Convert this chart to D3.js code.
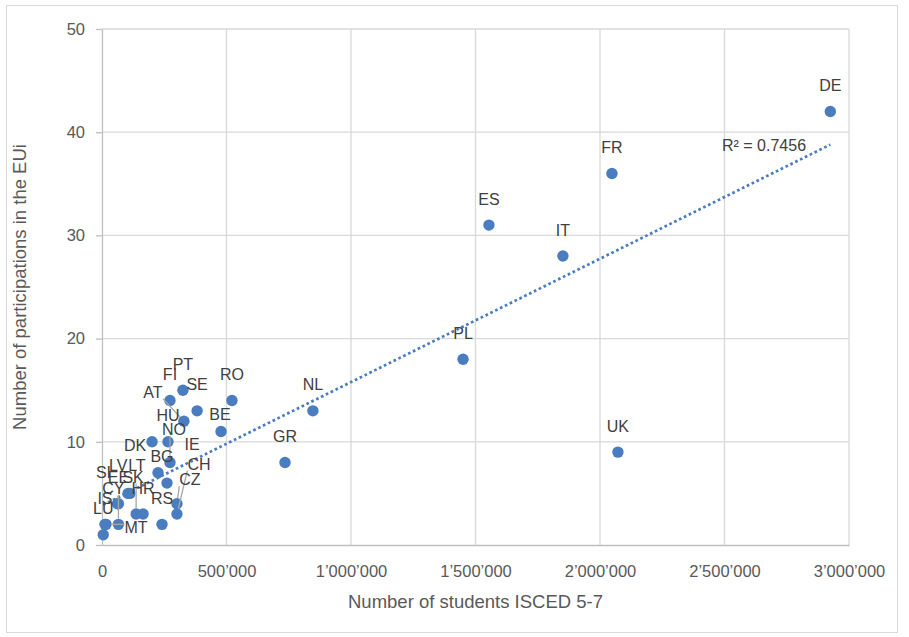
<!DOCTYPE html>
<html>
<head>
<meta charset="utf-8">
<script src="https://cdn.jsdelivr.net/npm/d3@7/dist/d3.min.js"></script>
<style>
  html, body { margin: 0; padding: 0; background: #fff; }
  svg { display: block; font-family: "Liberation Sans", Arial, sans-serif; }
</style>
</head>
<body>
<svg id="chart" width="909" height="637"></svg>
<script>
// ---- data ----
const countries = ["DE","FR","ES","IT","PL","UK","NL","GR","RO","BE","PT","FI","SE","AT","HU","IE","NO","DK","BG","CZ","CH","RS","HR","SK","LT","LV","EE","SI","CY","MT","IS","LU"];
const students = [2925000,2048000,1554000,1851000,1450000,2072000,847000,735000,522000,478000,325000,273000,382000,329000,265000,201000,273000,225000,261000,301000,301000,241000,165000,137000,112000,105000,66000,62000,66000,16000,12000,5000];
const participations = [42,36,31,28,18,9,13,8,14,11,15,14,13,12,10,10,8,7,6,4,3,2,3,3,5,5,4,4,2,2,2,1];
const xTicks = [0,500000,1000000,1500000,2000000,2500000,3000000];
const yTicks = [0,10,20,30,40,50];
const xTitle = "Number of students ISCED 5-7";
const yTitle = "Number of participations in the EUi";
const r2Text = "R² = 0.7456";

// label placement (pixel offsets of label centre from point; default above)
const labelDefault = [0, -26];
const labelOffsets = {
  BE: [-1,-17], AT: [-31,-29], IE: [40,3], NO: [4,-33], DK: [-23,-27], BG: [-5,-27],
  CZ: [13,-24], CH: [22,-50], SK: [-3,-37], LT: [7,-28], LV: [-10,-28], SI: [-14,-31],
  CY: [-5,-36], MT: [30,3]
};
const leaderSet = new Set(["AT","NO","CZ","CH","SK","CY","MT"]);

// ---- layout ----
const svg = d3.select("#chart");
const plot = {left: 102, right: 849, top: 29, bottom: 545};
const blue = "#4a7dbf";

svg.append("rect").attr("width", 909).attr("height", 637).attr("fill", "#fff");
svg.append("rect").attr("x", 6.5).attr("y", 5.5).attr("width", 891).attr("height", 627)
  .attr("fill", "none").attr("stroke", "#d9d9d9").attr("stroke-width", 1);

const x = d3.scaleLinear().domain([0, 3000000]).range([plot.left, plot.right]);
const y = d3.scaleLinear().domain([0, 50]).range([plot.bottom, plot.top]);

// gridlines
const grid = svg.append("g");
grid.selectAll("line.h").data(yTicks.filter(d => d > 0)).join("line")
  .attr("x1", plot.left).attr("x2", plot.right)
  .attr("y1", d => y(d)).attr("y2", d => y(d))
  .attr("stroke", "#d9d9d9").attr("stroke-width", 1.3);
grid.selectAll("line.v").data(xTicks.filter(d => d > 0)).join("line")
  .attr("y1", plot.top).attr("y2", plot.bottom)
  .attr("x1", d => x(d)).attr("x2", d => x(d))
  .attr("stroke", "#d9d9d9").attr("stroke-width", 1.3);

// axes
const fmt = d => d3.format(",")(d).replace(/,/g, "\u2019");
const xAxis = svg.append("g").attr("transform", `translate(0,${plot.bottom})`)
  .call(d3.axisBottom(x).tickValues(xTicks).tickFormat(fmt).tickSize(0).tickPadding(20));
const yAxis = svg.append("g").attr("transform", `translate(${plot.left},0)`)
  .call(d3.axisLeft(y).tickValues(yTicks).tickSizeInner(6).tickSizeOuter(0).tickPadding(11));
[xAxis, yAxis].forEach(a => {
  a.select(".domain").attr("stroke", "#bfbfbf").attr("stroke-width", 1.3);
  a.selectAll(".tick line").attr("stroke", "#bfbfbf").attr("stroke-width", 1.3);
  a.selectAll(".tick text").attr("fill", "#595959").attr("font-size", 16.5)
    .attr("font-family", "Liberation Sans, Arial, sans-serif");
});

// titles
svg.append("text").attr("x", (plot.left + plot.right) / 2).attr("y", 601)
  .attr("text-anchor", "middle").attr("dominant-baseline", "central")
  .attr("fill", "#595959").attr("font-size", 18.5).text(xTitle);
svg.append("text").attr("transform", `translate(19,${(plot.top + plot.bottom) / 2}) rotate(-90)`)
  .attr("text-anchor", "middle").attr("dominant-baseline", "central")
  .attr("fill", "#595959").attr("font-size", 18.5).text(yTitle);

// data
const data = countries.map((c, i) => ({c, sx: students[i], py: participations[i]}));

// linear regression trendline
const mx = d3.mean(data, d => d.sx), my = d3.mean(data, d => d.py);
const sxy = d3.sum(data, d => (d.sx - mx) * (d.py - my));
const sxx = d3.sum(data, d => (d.sx - mx) ** 2);
const slope = sxy / sxx, intercept = my - slope * mx;
const xr = d3.extent(data, d => d.sx);

// points
svg.append("g").selectAll("circle").data(data).join("circle")
  .attr("cx", d => x(d.sx)).attr("cy", d => y(d.py)).attr("r", 5.7)
  .attr("fill", blue);

svg.append("line")
  .attr("x1", x(xr[0])).attr("y1", y(intercept + slope * xr[0]))
  .attr("x2", x(xr[1])).attr("y2", y(intercept + slope * xr[1]))
  .attr("stroke", blue).attr("stroke-width", 2.7).attr("stroke-dasharray", "2.7 2.7");

// labels
const leaderG = svg.append("g");
const labelG = svg.append("g");
data.forEach(d => {
  const off = labelOffsets[d.c] || labelDefault;
  const px = x(d.sx), py = y(d.py);
  const t = labelG.append("text")
    .attr("x", px + off[0]).attr("y", py + off[1])
    .attr("text-anchor", "middle").attr("dominant-baseline", "central")
    .attr("fill", "#404040").attr("font-size", 16).text(d.c);
  if (leaderSet.has(d.c)) {
    const b = t.node().getBBox();
    const bx = Math.max(b.x, Math.min(px, b.x + b.width));
    const by = Math.max(b.y + 2, Math.min(py, b.y + b.height - 2));
    const dx = px - bx, dy = py - by, len = Math.hypot(dx, dy);
    leaderG.append("line")
      .attr("x1", bx).attr("y1", by)
      .attr("x2", px - dx / len * 5.7).attr("y2", py - dy / len * 5.7)
      .attr("stroke", "#a6a6a6").attr("stroke-width", 1.3);
  }
});

// R² label
svg.append("text").attr("x", 722).attr("y", 145).attr("dominant-baseline", "central")
  .attr("fill", "#404040").attr("font-size", 16).text(r2Text);
</script>
</body>
</html>
